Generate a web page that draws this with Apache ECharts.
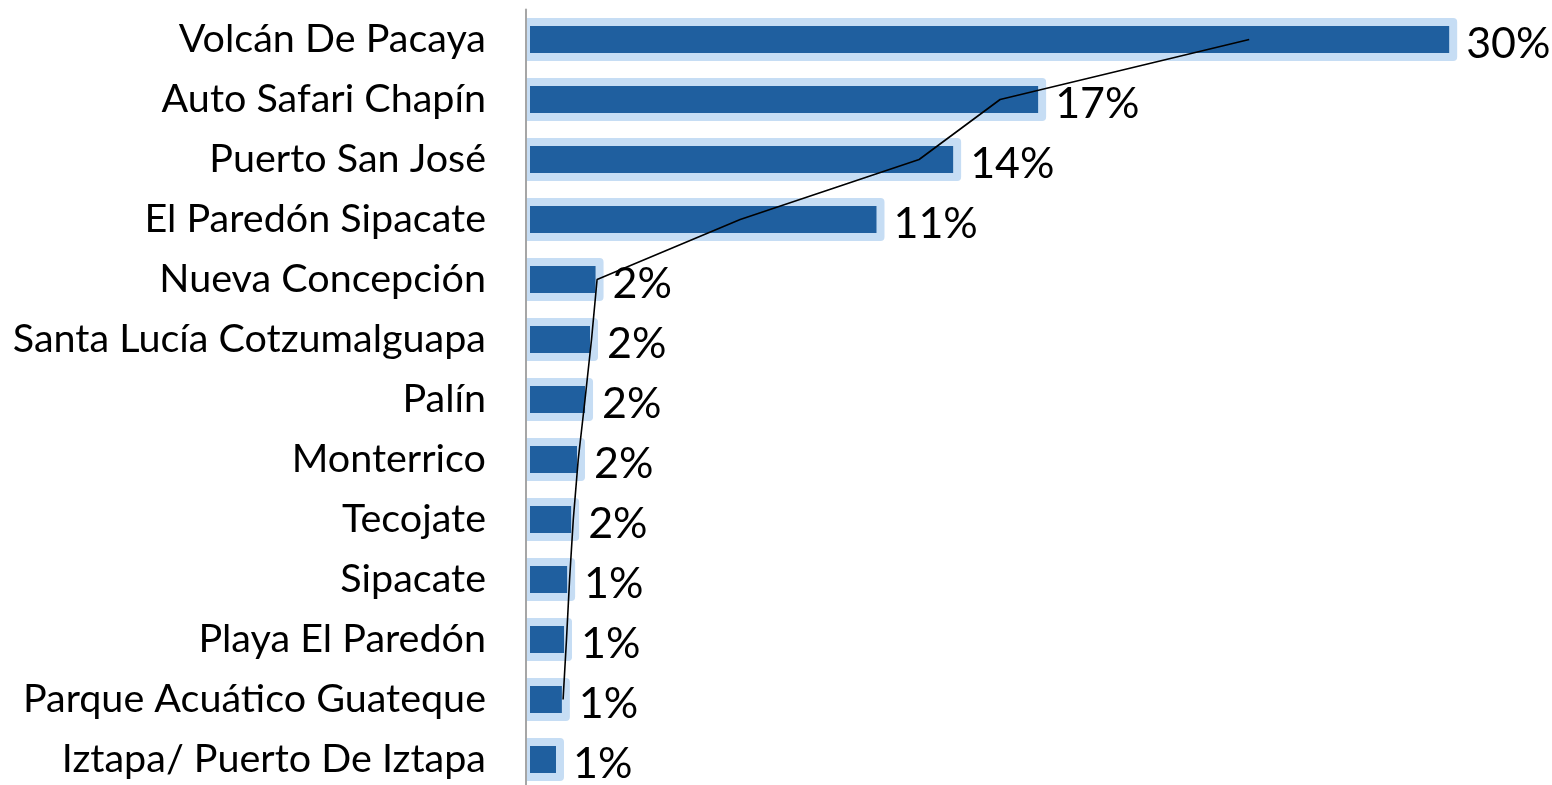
<!DOCTYPE html>
<html>
<head>
<meta charset="utf-8">
<script src="https://cdn.jsdelivr.net/npm/echarts@6/dist/echarts.min.js"></script>
<style>
  html, body { margin: 0; padding: 0; background: #fff; overflow: hidden; }
  #chart { width: 1600px; height: 800px; }
</style>
</head>
<body>
<div id="chart"></div>
<script>
// categories top to bottom
var categories = [
  "Volcán De Pacaya",
  "Auto Safari Chapín",
  "Puerto San José",
  "El Paredón Sipacate",
  "Nueva Concepción",
  "Santa Lucía Cotzumalguapa",
  "Palín",
  "Monterrico",
  "Tecojate",
  "Sipacate",
  "Playa El Paredón",
  "Parque Acuático Guateque",
  "Iztapa/ Puerto De Iztapa"
];

// share of visits, percent
var shares = [30.0, 16.7, 13.95, 11.47, 2.38, 2.2, 2.04, 1.78, 1.59, 1.46, 1.36, 1.29, 1.1];

// trend line (2 period moving average)
var trend = [23.4, 15.34, 12.72, 6.93, 2.3, 2.12, 1.91, 1.69, 1.53, 1.41, 1.31, 1.2, null];

var font = "Lato";

// bars drawn with a centred stroke, like the original
function renderBar(params, api) {
  var v = api.value(0);
  var c = api.value(1);
  var start = api.coord([0, c]);
  var end = api.coord([v, c]);
  var h = 35;
  return {
    type: "group",
    children: [
      {
        type: "rect",
        shape: { x: start[0], y: start[1] - h / 2, width: end[0] - start[0], height: h },
        style: { fill: "#1f5f9f", stroke: "#c6ddf4", lineWidth: 8, lineJoin: "round" }
      },
      {
        type: "text",
        style: {
          text: Math.round(v) + "%",
          x: end[0] + 13,
          y: start[1] + 5,
          align: "left",
          verticalAlign: "middle",
          fill: "#000",
          fontFamily: font,
          fontSize: 43
        }
      }
    ]
  };
}

var chart = echarts.init(document.getElementById("chart"));
chart.setOption({
  animation: false,
  grid: { left: 526, top: 9.5, width: 1050.8, height: 780 },
  xAxis: {
    type: "value",
    min: 0,
    max: 34,
    show: false
  },
  yAxis: {
    type: "category",
    data: categories,
    inverse: true,
    z: 3,
    axisLine: { show: true, lineStyle: { color: "#a6a6a6", width: 2 } },
    axisTick: { show: false },
    axisLabel: {
      color: "#000",
      fontFamily: font,
      fontSize: 39.5,
      margin: 40
    }
  },
  series: [
    {
      type: "custom",
      renderItem: renderBar,
      clip: true,
      data: shares.map(function (v, i) { return [v, i]; }),
      encode: { x: 0, y: 1 }
    },
    {
      type: "line",
      data: trend,
      symbol: "none",
      z: 5,
      lineStyle: { color: "#000", width: 1.6 }
    }
  ]
});
</script>
</body>
</html>
